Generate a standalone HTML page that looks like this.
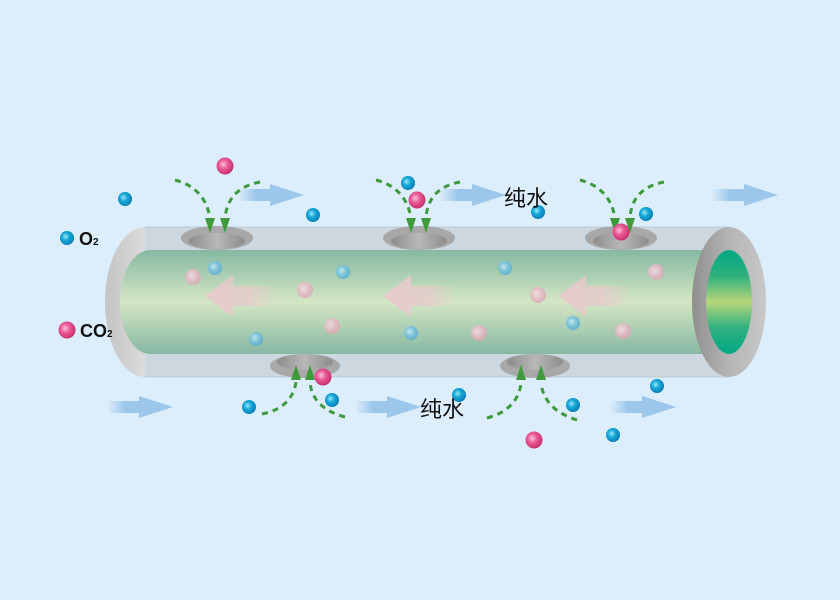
<!DOCTYPE html>
<html><head><meta charset="utf-8"><style>
html,body{margin:0;padding:0;background:#dcedfb;}
svg{display:block}
</style></head><body>
<svg width="840" height="600" viewBox="0 0 840 600" xmlns="http://www.w3.org/2000/svg">
<defs>
<radialGradient id="bl" cx="0.4" cy="0.4" r="0.6"><stop offset="0" stop-color="#9fe6f6"/><stop offset="0.45" stop-color="#17a9d8"/><stop offset="1" stop-color="#0a7fb8"/></radialGradient>
<radialGradient id="pk" cx="0.4" cy="0.4" r="0.6"><stop offset="0" stop-color="#f9c2da"/><stop offset="0.45" stop-color="#ea5a97"/><stop offset="1" stop-color="#c9306e"/></radialGradient>
<radialGradient id="bl2" cx="0.4" cy="0.4" r="0.6"><stop offset="0" stop-color="#c8ecf6"/><stop offset="0.5" stop-color="#7cc4e0"/><stop offset="1" stop-color="#5aaed2"/></radialGradient>
<radialGradient id="pk2" cx="0.4" cy="0.4" r="0.6"><stop offset="0" stop-color="#f6dde4"/><stop offset="0.5" stop-color="#e9bfca"/><stop offset="1" stop-color="#d9a8b6"/></radialGradient>
<linearGradient id="green" x1="0" y1="0" x2="0" y2="1"><stop offset="0" stop-color="#86b8a2"/><stop offset="0.5" stop-color="#d4e6c4"/><stop offset="1" stop-color="#86b8a2"/></linearGradient>
<linearGradient id="ring" x1="0" y1="0" x2="1" y2="0"><stop offset="0" stop-color="#8f8f8f"/><stop offset="0.5" stop-color="#b5b5b5"/><stop offset="1" stop-color="#c8c8c8"/></linearGradient>
<linearGradient id="endg" x1="0" y1="0" x2="0" y2="1"><stop offset="0" stop-color="#02a985"/><stop offset="0.25" stop-color="#2fb07f"/><stop offset="0.5" stop-color="#b6d67a"/><stop offset="0.75" stop-color="#2fb07f"/><stop offset="1" stop-color="#02a985"/></linearGradient>
<linearGradient id="lend" x1="0" y1="0" x2="1" y2="0"><stop offset="0" stop-color="#c4c4c4"/><stop offset="0.6" stop-color="#e0e0e0"/><stop offset="1" stop-color="#d2d2d2"/></linearGradient>
<linearGradient id="hole" x1="0" y1="0" x2="1" y2="0"><stop offset="0" stop-color="#8c8c8c"/><stop offset="0.5" stop-color="#b8b8b8"/><stop offset="1" stop-color="#8c8c8c"/></linearGradient>
<linearGradient id="barr" x1="0" y1="0" x2="1" y2="0"><stop offset="0" stop-color="#9cc7ea" stop-opacity="0"/><stop offset="0.5" stop-color="#9cc7ea"/><stop offset="1" stop-color="#9cc7ea"/></linearGradient>
<linearGradient id="parr" x1="0" y1="0" x2="1" y2="0"><stop offset="0" stop-color="#e8c9cc" stop-opacity="0.9"/><stop offset="0.6" stop-color="#e8c9cc" stop-opacity="0.8"/><stop offset="1" stop-color="#e8c9cc" stop-opacity="0"/></linearGradient>
<g id="ba"><rect x="0" y="-6" width="36" height="12" fill="url(#barr)"/><polygon points="32,-11 66,0 32,11" fill="#9cc7ea"/></g>
<g id="pa"><polygon points="0,0 28,-21 28,-10 72,-10 72,10 28,10 28,21" fill="url(#parr)"/></g>
</defs>
<rect width="840" height="600" fill="#dcedfb"/>
<ellipse cx="145" cy="302" rx="40" ry="75" fill="url(#lend)"/>
<rect x="145" y="227" width="584" height="150" fill="#ccd7df"/>
<line x1="145" y1="227" x2="729" y2="227" stroke="#bfcad2"/>
<line x1="145" y1="377" x2="729" y2="377" stroke="#bfcad2"/>
<rect x="150" y="250" width="579" height="104" fill="url(#green)"/>
<ellipse cx="150" cy="302" rx="30" ry="52" fill="url(#green)"/>
<ellipse cx="729" cy="302" rx="37" ry="75" fill="url(#ring)"/>
<ellipse cx="729" cy="302" rx="23" ry="52" fill="url(#endg)"/>
<g>
<ellipse cx="217" cy="238" rx="36" ry="12" fill="#a8a8a8"/><ellipse cx="217" cy="241" rx="28" ry="8" fill="url(#hole)"/>
<ellipse cx="419" cy="238" rx="36" ry="12" fill="#a8a8a8"/><ellipse cx="419" cy="241" rx="28" ry="8" fill="url(#hole)"/>
<ellipse cx="621" cy="238" rx="36" ry="12" fill="#a8a8a8"/><ellipse cx="621" cy="241" rx="28" ry="8" fill="url(#hole)"/>
<ellipse cx="305" cy="366" rx="35" ry="12" fill="#a8a8a8"/><ellipse cx="305" cy="362" rx="28" ry="8" fill="url(#hole)"/>
<ellipse cx="535" cy="366" rx="35" ry="12" fill="#a8a8a8"/><ellipse cx="535" cy="362" rx="28" ry="8" fill="url(#hole)"/>
</g>
<use href="#pa" x="205" y="296"/><use href="#pa" x="383" y="296"/><use href="#pa" x="558" y="296"/>
<g opacity="0.85">
<circle cx="215" cy="268" r="7" fill="url(#bl2)"/><circle cx="343" cy="272" r="7" fill="url(#bl2)"/><circle cx="505" cy="268" r="7" fill="url(#bl2)"/>
<circle cx="256" cy="339" r="7" fill="url(#bl2)"/><circle cx="411" cy="333" r="7" fill="url(#bl2)"/><circle cx="573" cy="323" r="7" fill="url(#bl2)"/>
<circle cx="193" cy="277" r="8" fill="url(#pk2)"/><circle cx="305" cy="290" r="8" fill="url(#pk2)"/><circle cx="332" cy="326" r="8" fill="url(#pk2)"/>
<circle cx="479" cy="333" r="8" fill="url(#pk2)"/><circle cx="538" cy="295" r="8" fill="url(#pk2)"/><circle cx="623" cy="331" r="8" fill="url(#pk2)"/><circle cx="656" cy="272" r="8" fill="url(#pk2)"/>
</g>
<use href="#ba" x="238" y="195"/><use href="#ba" x="440" y="195"/><use href="#ba" x="712" y="195"/>
<use href="#ba" x="107" y="407"/><use href="#ba" x="355" y="407"/><use href="#ba" x="610" y="407"/>
<g fill="none" stroke="#3e9a3a" stroke-width="3" stroke-dasharray="6,5">
<path d="M175,180 Q205,188 210,218"/><path d="M260,182 Q228,188 225,218"/>
<path d="M376,180 Q406,188 411,218"/><path d="M460,182 Q428,188 426,218"/>
<path d="M580,180 Q610,188 615,218"/><path d="M664,182 Q632,188 630,218"/>
<path d="M262,414 Q292,408 296,382"/><path d="M345,417 Q312,408 310,382"/>
<path d="M487,418 Q517,410 521,384"/><path d="M577,420 Q545,410 541,384"/>
</g>
<g fill="#3e9a3a">
<polygon points="205,218 215,218 210,233"/><polygon points="220,218 230,218 225,233"/>
<polygon points="406,218 416,218 411,233"/><polygon points="421,218 431,218 426,233"/>
<polygon points="610,218 620,218 615,233"/><polygon points="625,218 635,218 630,233"/>
<polygon points="291,380 301,380 296,365"/><polygon points="305,380 315,380 310,365"/>
<polygon points="516,380 526,380 521,365"/><polygon points="536,380 546,380 541,365"/>
</g>
<g>
<circle cx="125" cy="199" r="7" fill="url(#bl)"/><circle cx="313" cy="215" r="7" fill="url(#bl)"/><circle cx="408" cy="183" r="7" fill="url(#bl)"/>
<circle cx="538" cy="212" r="7" fill="url(#bl)"/><circle cx="646" cy="214" r="7" fill="url(#bl)"/><circle cx="249" cy="407" r="7" fill="url(#bl)"/>
<circle cx="332" cy="400" r="7" fill="url(#bl)"/><circle cx="459" cy="395" r="7" fill="url(#bl)"/><circle cx="573" cy="405" r="7" fill="url(#bl)"/>
<circle cx="657" cy="386" r="7" fill="url(#bl)"/><circle cx="613" cy="435" r="7" fill="url(#bl)"/><circle cx="67" cy="238" r="7" fill="url(#bl)"/>
<circle cx="225" cy="166" r="8.5" fill="url(#pk)"/><circle cx="417" cy="200" r="8.5" fill="url(#pk)"/><circle cx="621" cy="232" r="8.5" fill="url(#pk)"/>
<circle cx="323" cy="377" r="8.5" fill="url(#pk)"/><circle cx="534" cy="440" r="8.5" fill="url(#pk)"/><circle cx="67" cy="330" r="8.5" fill="url(#pk)"/>
</g>
<g font-family="Liberation Sans, Noto Sans CJK SC, sans-serif" fill="#111">
<text x="504" y="206" font-size="22">纯水</text>
<text x="420" y="417" font-size="22">纯水</text>
<text x="79" y="245" font-size="18" font-weight="bold">O<tspan font-size="10">2</tspan></text>
<text x="80" y="337" font-size="18" font-weight="bold">CO<tspan font-size="10">2</tspan></text>
</g>
</svg>
</body></html>
